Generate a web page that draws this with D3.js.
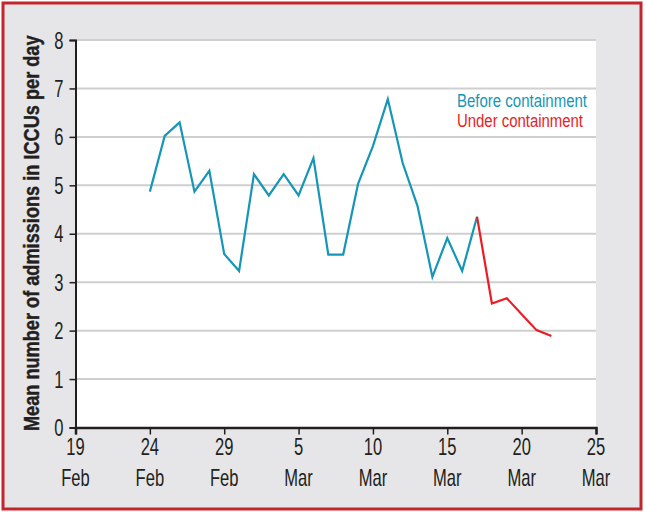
<!DOCTYPE html>
<html>
<head>
<meta charset="utf-8">
<script src="https://cdn.jsdelivr.net/npm/d3@7"></script>
<style>
  html, body { margin: 0; padding: 0; background: #ffffff; }
  svg { display: block; }
  text { font-family: "Liberation Sans", Arial, sans-serif; }
</style>
</head>
<body>
<svg id="chart" width="645" height="512"></svg>
<script>
// ---- Data ----
const beforeDates = ["2020-02-24","2020-02-25","2020-02-26","2020-02-27","2020-02-28","2020-02-29",
  "2020-03-01","2020-03-02","2020-03-03","2020-03-04","2020-03-05","2020-03-06","2020-03-07",
  "2020-03-08","2020-03-09","2020-03-10","2020-03-11","2020-03-12","2020-03-13","2020-03-14",
  "2020-03-15","2020-03-16","2020-03-17"];
const beforeValues = [4.87, 6.02, 6.30, 4.87, 5.30, 3.58, 3.23, 5.23, 4.79, 5.23, 4.79, 5.56, 3.57,
  3.57, 5.03, 5.81, 6.78, 5.46, 4.57, 3.11, 3.91, 3.23, 4.35];
const underDates = ["2020-03-17","2020-03-18","2020-03-19","2020-03-20","2020-03-21","2020-03-22"];
const underValues = [4.35, 2.56, 2.67, 2.34, 2.01, 1.89];
const xTickDates = ["2020-02-19","2020-02-24","2020-02-29","2020-03-05","2020-03-10","2020-03-15","2020-03-20","2020-03-25"];
const xTickDay = ["19","24","29","5","10","15","20","25"];
const xTickMonth = ["Feb","Feb","Feb","Mar","Mar","Mar","Mar","Mar"];
const yTicks = [0,1,2,3,4,5,6,7,8];
const seriesNames = ["Before containment", "Under containment"];
const yTitle = "Mean number of admissions in ICCUs per day";

(function () {
// ---- Layout ----
const parse = d3.utcParse("%Y-%m-%d");
const svg = d3.select("#chart");
const pLeft = 75.5, pRight = 596, pTop = 40, pBottom = 427.5;
const blue = "#1596b8", red = "#ec1c24", ink = "#231f20";
const narrow = 0.72;

// outer frame
svg.append("rect").attr("x", 3).attr("y", 3).attr("width", 638).attr("height", 506)
  .attr("fill", "#e6e6e8").attr("stroke", "#c4262e").attr("stroke-width", 3);

const x = d3.scaleUtc().domain([parse(xTickDates[0]), parse(xTickDates[xTickDates.length-1])]).range([pLeft, pRight]);
const y = d3.scaleLinear().domain([0, 8]).range([pBottom, pTop]);

// plot background
svg.append("rect").attr("x", pLeft).attr("y", pTop).attr("width", pRight - pLeft).attr("height", pBottom - pTop)
  .attr("fill", "#ffffff");

// gridlines
svg.append("g").selectAll("line").data(yTicks.filter(d => d > 0)).join("line")
  .attr("x1", pLeft).attr("x2", pRight)
  .attr("y1", d => y(d)).attr("y2", d => y(d))
  .attr("stroke", "#cfcfd1").attr("stroke-width", 2);

// y axis
const yAxis = svg.append("g").attr("transform", `translate(${pLeft},0)`)
  .call(d3.axisLeft(y).tickValues(yTicks).tickSize(6).tickFormat(d3.format("d")));
yAxis.select(".domain").attr("stroke", ink).attr("stroke-width", 2);
yAxis.selectAll(".tick line").attr("stroke", ink).attr("stroke-width", 1.5);
yAxis.selectAll(".tick text")
  .attr("x", null).attr("dy", null)
  .attr("transform", `translate(-12,8) scale(${narrow},1)`)
  .attr("font-size", 23).attr("fill", ink).attr("text-anchor", "end")
  .attr("font-family", "\"Liberation Sans\", Arial, sans-serif");

// x axis
const xAxis = svg.append("g").attr("transform", `translate(0,${pBottom})`)
  .call(d3.axisBottom(x).tickValues(xTickDates.map(parse)).tickSize(7).tickFormat(() => ""));
xAxis.select(".domain").attr("stroke", ink).attr("stroke-width", 2.5);
xAxis.selectAll(".tick line").attr("stroke", ink).attr("stroke-width", 1.5);
xAxis.selectAll(".tick text").remove();
const xt = svg.append("g");
xTickDates.forEach((d, i) => {
  const cx = x(parse(d));
  xt.append("text").attr("transform", `translate(${cx},455) scale(${narrow},1)`)
    .attr("text-anchor", "middle").attr("font-size", 23).attr("fill", ink).text(xTickDay[i]);
  xt.append("text").attr("transform", `translate(${cx},486) scale(${narrow},1)`)
    .attr("text-anchor", "middle").attr("font-size", 23).attr("fill", ink).text(xTickMonth[i]);
});

// y title (condensed by measured scale)
const yt = svg.append("text")
  .attr("text-anchor", "middle").attr("font-weight", "bold").attr("font-size", 21.5)
  .attr("fill", ink).attr("stroke", ink).attr("stroke-width", 0.4)
  .text(yTitle);
const natural = yt.node().getComputedTextLength();
const sx = 396 / natural;
yt.attr("transform", `translate(38.5,${(pTop + pBottom) / 2 - 0.5}) rotate(-90) scale(${sx},1)`);

// lines
const line = d3.line().x(d => x(parse(d[0]))).y(d => y(d[1]));
svg.append("path").datum(beforeDates.map((d, i) => [d, beforeValues[i]]))
  .attr("d", line).attr("fill", "none").attr("stroke", blue).attr("stroke-width", 2.2)
  .attr("stroke-linejoin", "miter");
svg.append("path").datum(underDates.map((d, i) => [d, underValues[i]]))
  .attr("d", line).attr("fill", "none").attr("stroke", red).attr("stroke-width", 2.2)
  .attr("stroke-linejoin", "miter");

// legend
svg.append("text").attr("x", 457).attr("y", 107).attr("font-size", 17.5).attr("fill", blue)
  .attr("textLength", 130).attr("lengthAdjust", "spacingAndGlyphs").text(seriesNames[0]);
svg.append("text").attr("x", 457).attr("y", 127).attr("font-size", 17.5).attr("fill", red)
  .attr("textLength", 126).attr("lengthAdjust", "spacingAndGlyphs").text(seriesNames[1]);
})();
</script>
</body>
</html>
